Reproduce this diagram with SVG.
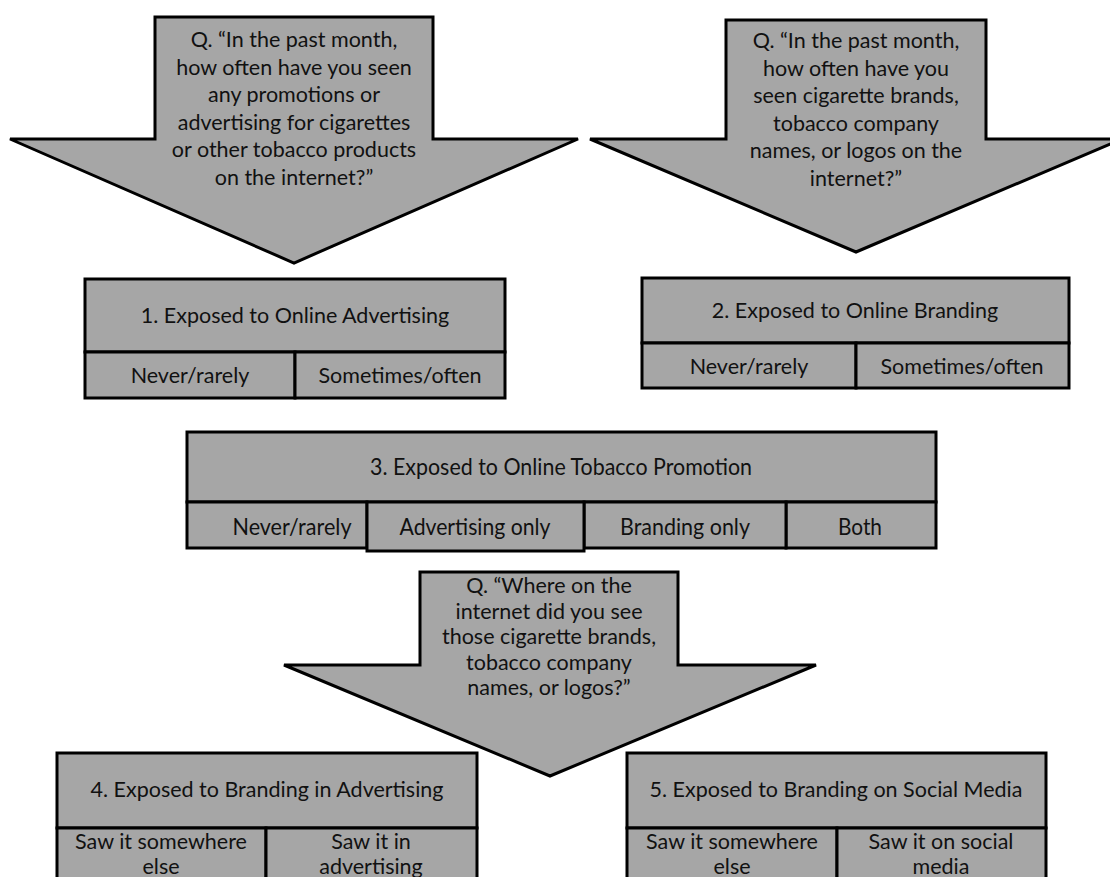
<svg xmlns="http://www.w3.org/2000/svg" width="1110" height="877" viewBox="0 0 1110 877">
<style>
.shape{fill:#a6a6a6;stroke:#000;stroke-width:3;stroke-linejoin:miter}
.t{font-family:Lato,"Liberation Sans",sans-serif;font-size:21.5px;fill:#111;text-anchor:middle}
.tn{font-family:Lato,"Liberation Sans",sans-serif;font-size:23px;fill:#111;text-anchor:middle}
</style>
<rect width="1110" height="877" fill="#fff"/>
<g id="connectors">
<g id="arrow1">
<polygon class="shape" points="155,17 433,17 433,139 578,139 294,263 10,139 155,139"/>
<text class="t" x="294" y="47">Q. “In the past month,</text>
<text class="t" x="294" y="74.5">how often have you seen</text>
<text class="t" x="294" y="102">any promotions or</text>
<text class="t" x="294" y="129.5">advertising for cigarettes</text>
<text class="t" x="294" y="157">or other tobacco products</text>
<text class="t" x="294" y="184.5">on the internet?”</text>
</g>
<g id="arrow2">
<polygon class="shape" points="726,20 986,20 986,139 1122,139 856,252 590,139 726,139"/>
<text class="t" x="856" y="48">Q. “In the past month,</text>
<text class="t" x="856" y="75.5">how often have you</text>
<text class="t" x="856" y="103">seen cigarette brands,</text>
<text class="t" x="856" y="130.5">tobacco company</text>
<text class="t" x="856" y="158">names, or logos on the</text>
<text class="t" x="856" y="185.5">internet?”</text>
</g>
<g id="arrow3">
<polygon class="shape" points="420,572 678,572 678,665 816,665 550,776 284,665 420,665"/>
<text class="t" x="549" y="593">Q. “Where on the</text>
<text class="t" x="549" y="618.5">internet did you see</text>
<text class="t" x="549" y="644">those cigarette brands,</text>
<text class="t" x="549" y="669.5">tobacco company</text>
<text class="t" x="549" y="695">names, or logos?”</text>
</g>
</g>
<g id="box1">
<rect class="shape" x="85" y="279" width="420" height="73"/>
<rect class="shape" x="85" y="352" width="210" height="46"/>
<rect class="shape" x="295" y="352" width="210" height="46"/>
<text class="t" x="295" y="323">1. Exposed to Online Advertising</text>
<text class="t" x="190" y="383">Never/rarely</text>
<text class="t" x="400" y="383">Sometimes/often</text>
</g>
<g id="box2">
<rect class="shape" x="642" y="278" width="427" height="65"/>
<rect class="shape" x="642" y="343" width="214" height="45"/>
<rect class="shape" x="856" y="343" width="213" height="45"/>
<text class="t" x="855" y="318">2. Exposed to Online Branding</text>
<text class="t" x="749" y="374">Never/rarely</text>
<text class="t" x="962" y="374">Sometimes/often</text>
</g>
<g id="box3">
<rect class="shape" x="187" y="432" width="749" height="70"/>
<rect class="shape" x="187" y="502" width="180" height="46"/>
<rect class="shape" x="786" y="502" width="150" height="46"/>
<rect class="shape" x="584" y="502" width="202" height="46"/>
<rect class="shape" x="367" y="502" width="217" height="49"/>
<text class="tn" x="561" y="475" textLength="382" lengthAdjust="spacingAndGlyphs">3. Exposed to Online Tobacco Promotion</text>
<text class="tn" x="292" y="535" textLength="119" lengthAdjust="spacingAndGlyphs">Never/rarely</text>
<text class="tn" x="475" y="535" textLength="151" lengthAdjust="spacingAndGlyphs">Advertising only</text>
<text class="tn" x="685" y="535" textLength="130" lengthAdjust="spacingAndGlyphs">Branding only</text>
<text class="tn" x="860" y="535" textLength="44" lengthAdjust="spacingAndGlyphs">Both</text>
</g>
<g id="box4">
<rect class="shape" x="57" y="753" width="420" height="75"/>
<rect class="shape" x="57" y="828" width="209" height="70"/>
<rect class="shape" x="266" y="828" width="211" height="70"/>
<text class="t" x="267" y="797">4. Exposed to Branding in Advertising</text>
<text class="t" x="161" y="849">Saw it somewhere</text>
<text class="t" x="161" y="874">else</text>
<text class="t" x="371" y="849">Saw it in</text>
<text class="t" x="371" y="874">advertising</text>
</g>
<g id="box5">
<rect class="shape" x="627" y="753" width="419" height="75"/>
<rect class="shape" x="627" y="828" width="210" height="70"/>
<rect class="shape" x="837" y="828" width="209" height="70"/>
<text class="t" x="836" y="797">5. Exposed to Branding on Social Media</text>
<text class="t" x="732" y="849">Saw it somewhere</text>
<text class="t" x="732" y="874">else</text>
<text class="t" x="941" y="849">Saw it on social</text>
<text class="t" x="941" y="874">media</text>
</g>
</svg>
